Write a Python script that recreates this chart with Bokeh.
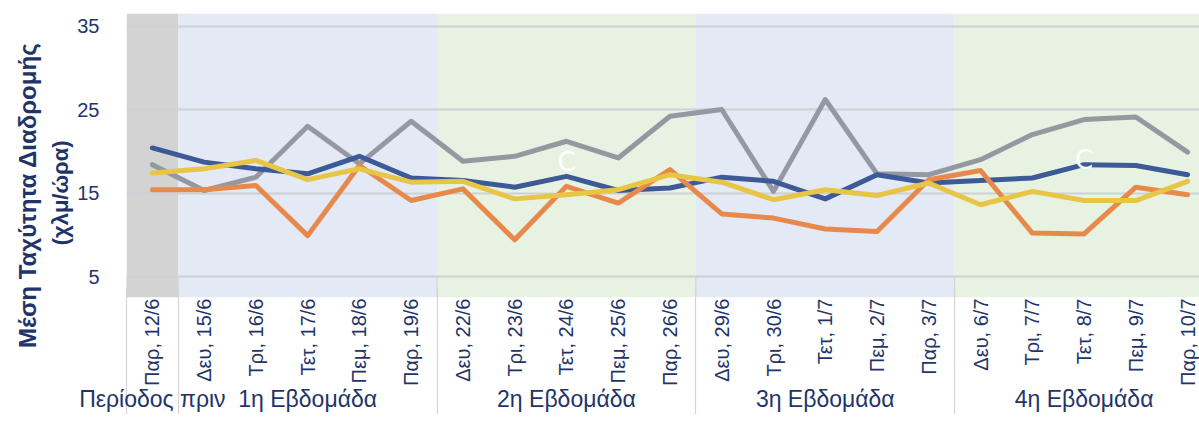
import math
from bokeh.plotting import figure
from bokeh.models import Range1d, LinearAxis, FixedTicker, Title
from bokeh.core.properties import value
from bokeh.embed import file_html
from bokeh.resources import INLINE

# ---------------- data ----------------
days = ["Παρ, 12/6",
        "Δευ, 15/6", "Τρι, 16/6", "Τετ, 17/6", "Πεμ, 18/6", "Παρ, 19/6",
        "Δευ, 22/6", "Τρι, 23/6", "Τετ, 24/6", "Πεμ, 25/6", "Παρ, 26/6",
        "Δευ, 29/6", "Τρι, 30/6", "Τετ, 1/7", "Πεμ, 2/7", "Παρ, 3/7",
        "Δευ, 6/7", "Τρι, 7/7", "Τετ, 8/7", "Πεμ, 9/7", "Παρ, 10/7"]

groups = ["Περίοδος πριν", "1η Εβδομάδα", "2η Εβδομάδα", "3η Εβδομάδα", "4η Εβδομάδα"]
group_start = [0, 1, 6, 11, 16]
group_end = [0, 5, 10, 15, 20]
group_colors = ["#D3D3D3", "#E3E9F5", "#E8F2E2", "#E3E9F5", "#E8F2E2"]

series_gray = [18.4, 15.3, 16.9, 23.0, 18.5, 23.6,
               18.8, 19.4, 21.2, 19.2, 24.2,
               25.0, 15.2, 26.2, 17.3, 17.2,
               19.0, 22.0, 23.8, 24.1, 19.9]
series_navy = [20.4, 18.7, 17.9, 17.3, 19.4, 16.8,
               16.5, 15.7, 17.0, 15.3, 15.6,
               16.9, 16.4, 14.3, 17.2, 16.2,
               16.5, 16.8, 18.4, 18.3, 17.2]
series_orange = [15.4, 15.4, 15.9, 9.9, 18.3, 14.1,
                 15.5, 9.4, 15.8, 13.8, 17.8,
                 12.5, 12.0, 10.7, 10.4, 16.6,
                 17.7, 10.2, 10.1, 15.7, 14.8]
series_yellow = [17.4, 17.9, 18.9, 16.6, 17.9, 16.3,
                 16.4, 14.3, 14.8, 15.4, 17.2,
                 16.3, 14.2, 15.4, 14.7, 16.2,
                 13.6, 15.2, 14.1, 14.1, 16.4]

y_ticks = [5, 15, 25, 35]
y_title = "Μέση Ταχύτητα Διαδρομής"
y_unit = "(χλμ/ώρα)"

marks_idx = [8, 18]
marks_val = [18.7, 19.0]
marks_txt = ["C", "C"]

# ---------------- styles ----------------
NAVY_TEXT = "#1F3468"
FONT = "Liberation Sans"
SEP = "#D5D5D5"
x = list(range(len(days)))

p = figure(frame_width=1073, frame_height=284,
           x_range=Range1d(-0.5, 20.23), y_range=Range1d(2.49, 36.5),
           x_axis_type=None,
           min_border_left=126, min_border_right=0, min_border_top=13, min_border_bottom=0,
           output_backend="svg", toolbar_location=None)
p.outline_line_color = None
p.background_fill_color = "white"
p.border_fill_color = "white"

# background bands per week
band_left = [s - 0.5 for s in group_start]
band_right = [e + 0.5 for e in group_end]
p.quad(left=band_left, right=band_right,
       bottom=p.y_range.start, top=p.y_range.end,
       fill_color=group_colors, line_color=None, level="image")

# separators below the value axis (inside frame)
bounds = band_left
p.segment(x0=bounds, y0=[p.y_range.start] * len(bounds), x1=bounds, y1=[y_ticks[0]] * len(bounds),
          line_color=SEP, line_width=1.2)

# y grid / axis
p.ygrid.ticker = FixedTicker(ticks=y_ticks)
p.ygrid.grid_line_color = "#CDD0D6"
p.ygrid.grid_line_width = 2
p.ygrid.level = "underlay"
p.yaxis.ticker = FixedTicker(ticks=y_ticks)
p.yaxis.axis_line_color = None
p.yaxis.major_tick_line_color = None
p.yaxis.minor_tick_line_color = None
p.yaxis.major_label_text_font = FONT
p.yaxis.major_label_text_font_size = "20px"
p.yaxis.major_label_text_color = NAVY_TEXT
p.yaxis.major_label_standoff = 21

# y titles (two lines, as left titles)
p.add_layout(Title(text=y_unit, align="right", offset=127, standoff=4,
                   text_font=FONT, text_font_style="bold", text_font_size="22px",
                   text_color=NAVY_TEXT), "left")
p.add_layout(Title(text=y_title, align="right", offset=29, standoff=6,
                   text_font=FONT, text_font_style="bold", text_font_size="24px",
                   text_color=NAVY_TEXT), "left")

# date axis
date_axis = LinearAxis(ticker=FixedTicker(ticks=x))
date_axis.major_label_overrides = {i: d for i, d in enumerate(days)}
date_axis.major_label_orientation = math.pi / 2
date_axis.axis_line_color = None
date_axis.major_tick_line_color = None
date_axis.minor_tick_line_color = None
date_axis.major_tick_out = 0
date_axis.major_tick_in = 0
date_axis.major_label_standoff = 1
date_axis.major_label_text_font = FONT
date_axis.major_label_text_font_size = "20px"
date_axis.major_label_text_color = NAVY_TEXT
p.add_layout(date_axis, "below")

# week axis (its minor ticks draw the week separators)
centers = [(s + e) / 2 for s, e in zip(group_start, group_end)]
group_axis = LinearAxis(ticker=FixedTicker(ticks=centers, minor_ticks=bounds))
group_axis.major_label_overrides = {c: g for c, g in zip(centers, groups)}
group_axis.axis_line_color = None
group_axis.major_tick_line_color = None
group_axis.major_tick_in = 0
group_axis.major_tick_out = 0
group_axis.minor_tick_line_color = SEP
group_axis.minor_tick_line_width = 1.2
group_axis.minor_tick_in = 100
group_axis.minor_tick_out = 60
group_axis.major_label_standoff = -63
group_axis.major_label_text_font = FONT
group_axis.major_label_text_font_size = "23px"
group_axis.major_label_text_color = NAVY_TEXT
p.add_layout(group_axis, "below")

# series
LW = 5
p.line(x, series_gray, line_color="#9498A0", line_width=LW, line_join="round", line_cap="round")
p.line(x, series_navy, line_color="#3C5A96", line_width=LW, line_join="round", line_cap="round")
p.line(x, series_orange, line_color="#E8894C", line_width=LW, line_join="round", line_cap="round")
p.line(x, series_yellow, line_color="#E8C547", line_width=LW, line_join="round", line_cap="round")

p.text(x=marks_idx, y=marks_val, text=marks_txt, text_color="white",
       text_font=value("DejaVu Sans"), text_font_size="26px",
       text_align="center", text_baseline="middle")

open("out.html", "w").write(file_html(p, INLINE))
